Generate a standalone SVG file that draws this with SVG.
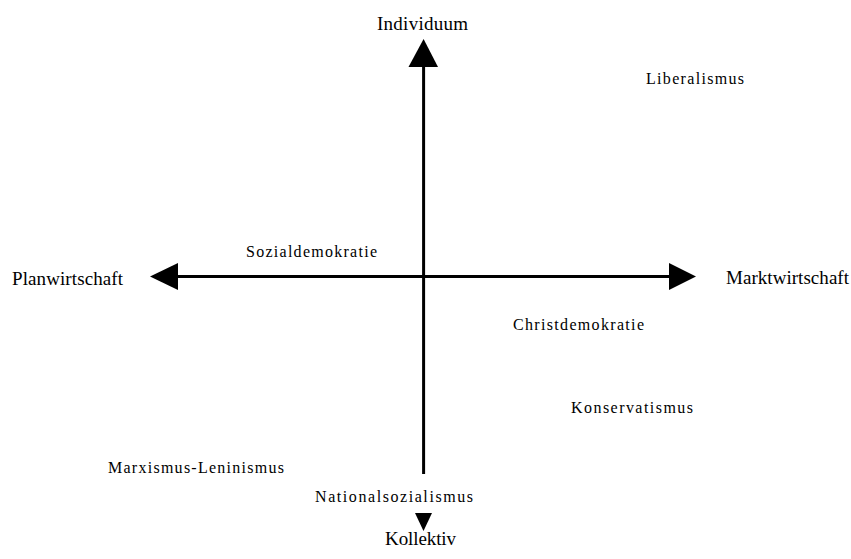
<svg xmlns="http://www.w3.org/2000/svg" width="851" height="559" viewBox="0 0 851 559">
<style>
text{font-family:"Liberation Serif","Times New Roman",Times,serif;fill:#000}
.big{font-size:19px}
.small{font-size:16px}
.axis{stroke:#000;stroke-width:3;fill:none}
.head{fill:#000;stroke:none}
</style>
<rect width="851" height="559" fill="#fff"/>
<g id="connectors">
<line class="axis" x1="423.6" y1="66" x2="423.6" y2="474"/>
<line class="axis" x1="177" y1="276.5" x2="670" y2="276.5"/>
<polygon class="head" points="408.5,67 423.6,39 438,67"/>
<polygon class="head" points="415,513 432,513 423.5,531"/>
<polygon class="head" points="178,263 150,276.5 178,290"/>
<polygon class="head" points="669,263 696,276.5 669,290"/>
</g>
<g id="individuum"><text class="big" x="377" y="30" textLength="91" lengthAdjust="spacing">Individuum</text></g>
<g id="kollektiv"><text class="big" x="385" y="545" textLength="71" lengthAdjust="spacing">Kollektiv</text></g>
<g id="planwirtschaft"><text class="big" x="12" y="285" textLength="111" lengthAdjust="spacing">Planwirtschaft</text></g>
<g id="marktwirtschaft"><text class="big" x="726" y="284" textLength="123" lengthAdjust="spacing">Marktwirtschaft</text></g>
<g id="liberalismus"><text class="small" x="646" y="84" textLength="98" lengthAdjust="spacing">Liberalismus</text></g>
<g id="sozialdemokratie"><text class="small" x="246" y="257" textLength="131" lengthAdjust="spacing">Sozialdemokratie</text></g>
<g id="christdemokratie"><text class="small" x="513" y="330" textLength="131" lengthAdjust="spacing">Christdemokratie</text></g>
<g id="konservatismus"><text class="small" x="571" y="413" textLength="122" lengthAdjust="spacing">Konservatismus</text></g>
<g id="marxismus-leninismus"><text class="small" x="108" y="473" textLength="176" lengthAdjust="spacing">Marxismus-Leninismus</text></g>
<g id="nationalsozialismus"><text class="small" x="315" y="502" textLength="158" lengthAdjust="spacing">Nationalsozialismus</text></g>
</svg>
